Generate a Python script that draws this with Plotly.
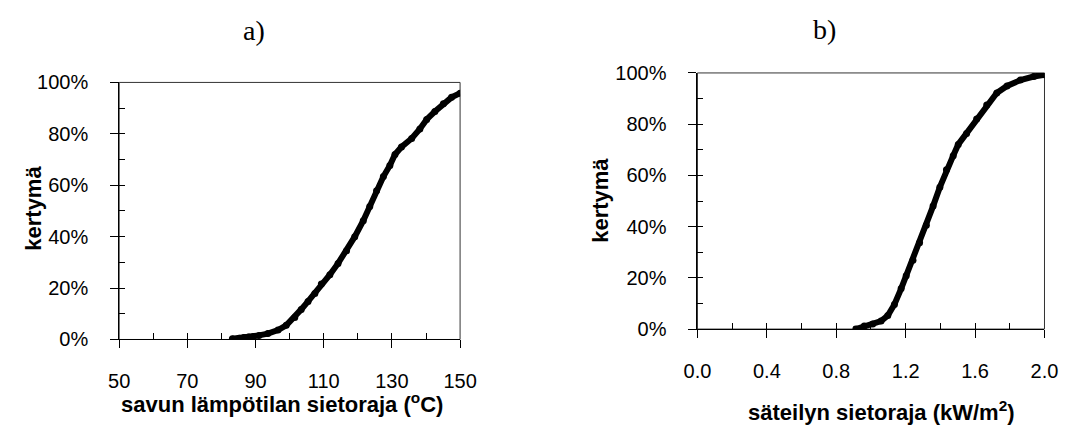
import plotly.graph_objects as go

# Panel a): smoke temperature tolerance (°C) vs cumulative share
smoke_temp = [83.2, 85.2, 86.6, 88.0, 89.4, 91.0, 93.6, 96.6, 99.0, 101.5, 103.4,
              105.4, 107.4, 109.3, 111.8, 114.2, 116.7, 119.1, 121.6, 123.5, 125.5,
              127.5, 129.4, 130.9, 132.8, 135.8, 138.2, 140.2, 142.6, 145.1, 147.5, 150.0]
smoke_cum = [0.003, 0.005, 0.008, 0.010, 0.012, 0.016, 0.023, 0.037, 0.055, 0.086, 0.117,
             0.148, 0.179, 0.216, 0.252, 0.296, 0.345, 0.400, 0.462, 0.517, 0.579,
             0.634, 0.677, 0.720, 0.749, 0.782, 0.819, 0.856, 0.887, 0.917, 0.942, 0.958]

# Panel b): radiation tolerance (kW/m²) vs cumulative share
rad_flux = [0.913, 0.961, 1.010, 1.058, 1.097, 1.135, 1.174, 1.203, 1.242, 1.280, 1.319,
            1.358, 1.397, 1.435, 1.474, 1.503, 1.551, 1.609, 1.667, 1.725, 1.784,
            1.861, 1.938, 2.000]
rad_cum = [0.000, 0.012, 0.020, 0.031, 0.053, 0.096, 0.158, 0.208, 0.269, 0.337, 0.405,
           0.480, 0.554, 0.622, 0.677, 0.721, 0.764, 0.820, 0.875, 0.922, 0.949,
           0.972, 0.986, 0.993]

panel_labels = ["a)", "b)"]
x_titles = ["savun lämpötilan sietoraja (<sup>o</sup>C)", "säteilyn sietoraja (kW/m<sup>2</sup>)"]
y_title = "kertymä"

SANS = "Liberation Sans, Arial, sans-serif"
SERIF = "Liberation Serif, Times New Roman, serif"
W, H = 1078, 428

def px_x(p):
    return p / W

def px_y(p):
    return (H - p) / H

fig = go.Figure()

curve_style = dict(mode="lines+markers", line=dict(color="black", width=6),
                   marker=dict(color="black", size=7), showlegend=False, hoverinfo="x+y")
fig.add_trace(go.Scatter(x=smoke_temp, y=smoke_cum, xaxis="x", yaxis="y", **curve_style))
fig.add_trace(go.Scatter(x=rad_flux, y=rad_cum, xaxis="x2", yaxis="y2", **curve_style))
# empty traces so the inner-tick overlay axes are drawn
fig.add_trace(go.Scatter(x=[None], y=[None], xaxis="x3", yaxis="y3", showlegend=False))
fig.add_trace(go.Scatter(x=[None], y=[None], xaxis="x4", yaxis="y4", showlegend=False))

dom_a_x = [px_x(108.3), px_x(459.3)]
dom_a_y = [px_y(346.3), px_y(75.3)]
dom_b_x = [px_x(703.7), px_x(1061.0)]
dom_b_y = [px_y(335.3), px_y(65.3)]

tickfont = dict(family=SANS, size=20, color="black")
major = dict(ticks="outside", ticklen=8, tickwidth=1, tickcolor="black",
             showline=True, linecolor="black", linewidth=1, showgrid=False,
             zeroline=False, tickfont=tickfont)
inner = dict(ticks="inside", ticklen=6, tickwidth=1, tickcolor="black",
             showline=False, showgrid=False, zeroline=False, showticklabels=False)

fig.update_layout(
    width=W, height=H, margin=dict(l=0, r=0, t=0, b=0),
    paper_bgcolor="white", plot_bgcolor="white", showlegend=False,
    xaxis=dict(domain=dom_a_x, range=[50, 150], tick0=50, dtick=20, anchor="y",
               ticklabelstandoff=16, **major),
    yaxis=dict(domain=dom_a_y, range=[0, 1], dtick=0.2, tickformat=".0%", anchor="x",
               ticklabelstandoff=18, **major),
    xaxis2=dict(domain=dom_b_x, range=[0, 2], tick0=0, dtick=0.4, tickformat=".1f",
                anchor="y2", ticklabelstandoff=16, **major),
    yaxis2=dict(domain=dom_b_y, range=[0, 1], dtick=0.2, tickformat=".0%", anchor="x2",
                ticklabelstandoff=18, **major),
    xaxis3=dict(domain=dom_a_x, range=[50, 150], tick0=50, dtick=10, anchor="y3",
                overlaying="x", **inner),
    yaxis3=dict(domain=dom_a_y, range=[0, 1], dtick=0.1, anchor="x3",
                overlaying="y", **inner),
    xaxis4=dict(domain=dom_b_x, range=[0, 2], tick0=0, dtick=0.2, anchor="y4",
                overlaying="x2", **inner),
    yaxis4=dict(domain=dom_b_y, range=[0, 1], dtick=0.1, anchor="x4",
                overlaying="y2", **inner),
)

# frame: top and right borders of each panel
for xr, yr in (("x domain", "y domain"), ("x2 domain", "y2 domain")):
    fig.add_shape(type="rect", xref=xr, yref=yr, x0=0, x1=1, y0=0, y1=1,
                  line=dict(color="#333333", width=1), layer="below")

fig.add_annotation(text=panel_labels[0], x=px_x(247), y=px_y(21), xref="paper", yref="paper",
                   showarrow=False, xanchor="center", yanchor="middle",
                   font=dict(family=SERIF, size=28, color="black"))
fig.add_annotation(text=panel_labels[1], x=px_x(835), y=px_y(19), xref="paper", yref="paper",
                   showarrow=False, xanchor="center", yanchor="middle",
                   font=dict(family=SERIF, size=28, color="black"))

title_font = dict(family=SANS, size=22, color="black")
fig.add_annotation(text="<b>" + x_titles[0] + "</b>", x=px_x(276), y=px_y(413),
                   xref="paper", yref="paper", showarrow=False,
                   xanchor="center", yanchor="middle", font=title_font)
fig.add_annotation(text="<b>" + x_titles[1] + "</b>", x=px_x(893), y=px_y(422),
                   xref="paper", yref="paper", showarrow=False,
                   xanchor="center", yanchor="middle", font=title_font)
fig.add_annotation(text="<b>" + y_title + "</b>", x=px_x(20), y=px_y(208), textangle=-90,
                   xref="paper", yref="paper", showarrow=False,
                   xanchor="center", yanchor="middle", font=title_font)
fig.add_annotation(text="<b>" + y_title + "</b>", x=px_x(604.5), y=px_y(200), textangle=-90,
                   xref="paper", yref="paper", showarrow=False,
                   xanchor="center", yanchor="middle", font=title_font)

fig.write_html("out.html")
